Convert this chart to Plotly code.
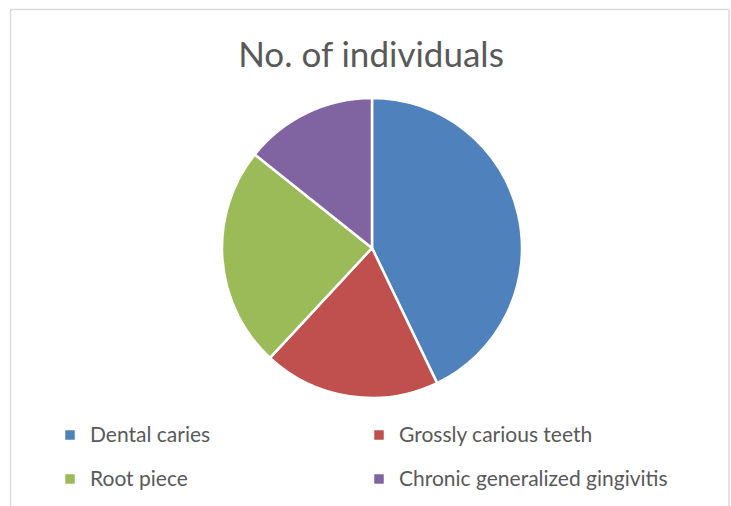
import plotly.graph_objects as go

categories = ["Dental caries", "Grossly carious teeth", "Root piece", "Chronic generalized gingivitis"]
values = [9, 4, 5, 3]
colors = ["#4F81BD", "#C0504D", "#9BBB59", "#8064A2"]
title_text = "No. of individuals"

W, H = 731, 506
legend_labels = [f"<span style='font-size:21px;baseline-shift:5px'>{c}</span>" for c in categories]

fig = go.Figure(go.Pie(
    labels=legend_labels,
    values=values,
    sort=False,
    direction="clockwise",
    rotation=0,
    marker=dict(colors=colors, line=dict(color="white", width=2.5)),
    textinfo="none",
    hoverinfo="label+value+percent",
    domain=dict(x=[222 / W, 522 / W], y=[1 - 399 / H, 1 - 97 / H]),
))

border = dict(color="#D9D9D9", width=1.5)
fig.add_shape(type="line", xref="paper", yref="paper", x0=10.5 / W, x1=10.5 / W, y0=-0.05, y1=1 - 9.5 / H, line=border)
fig.add_shape(type="line", xref="paper", yref="paper", x0=10.5 / W, x1=729 / W, y0=1 - 9.5 / H, y1=1 - 9.5 / H, line=border)
fig.add_shape(type="line", xref="paper", yref="paper", x0=729 / W, x1=729 / W, y0=-0.05, y1=1 - 9.5 / H, line=border)

fig.update_layout(
    width=W, height=H,
    margin=dict(l=0, r=0, t=0, b=0),
    paper_bgcolor="white", plot_bgcolor="white",
    font=dict(family="Lato, 'Open Sans', sans-serif", color="#595959"),
    title=dict(text=title_text, x=371 / W, xanchor="center", y=1 - 55 / H, yanchor="middle",
               font=dict(size=35, color="#595959", family="Lato, sans-serif")),
    showlegend=True,
    legend=dict(orientation="h", x=50 / W, xanchor="left", y=1 - 408 / H, yanchor="top",
                entrywidth=264, entrywidthmode="pixels",
                font=dict(size=31.5, color="#595959"), bgcolor="rgba(0,0,0,0)"),
)

fig.write_html("out.html", post_script="document.body.style.margin='0';",
               config={"displayModeBar": False})
